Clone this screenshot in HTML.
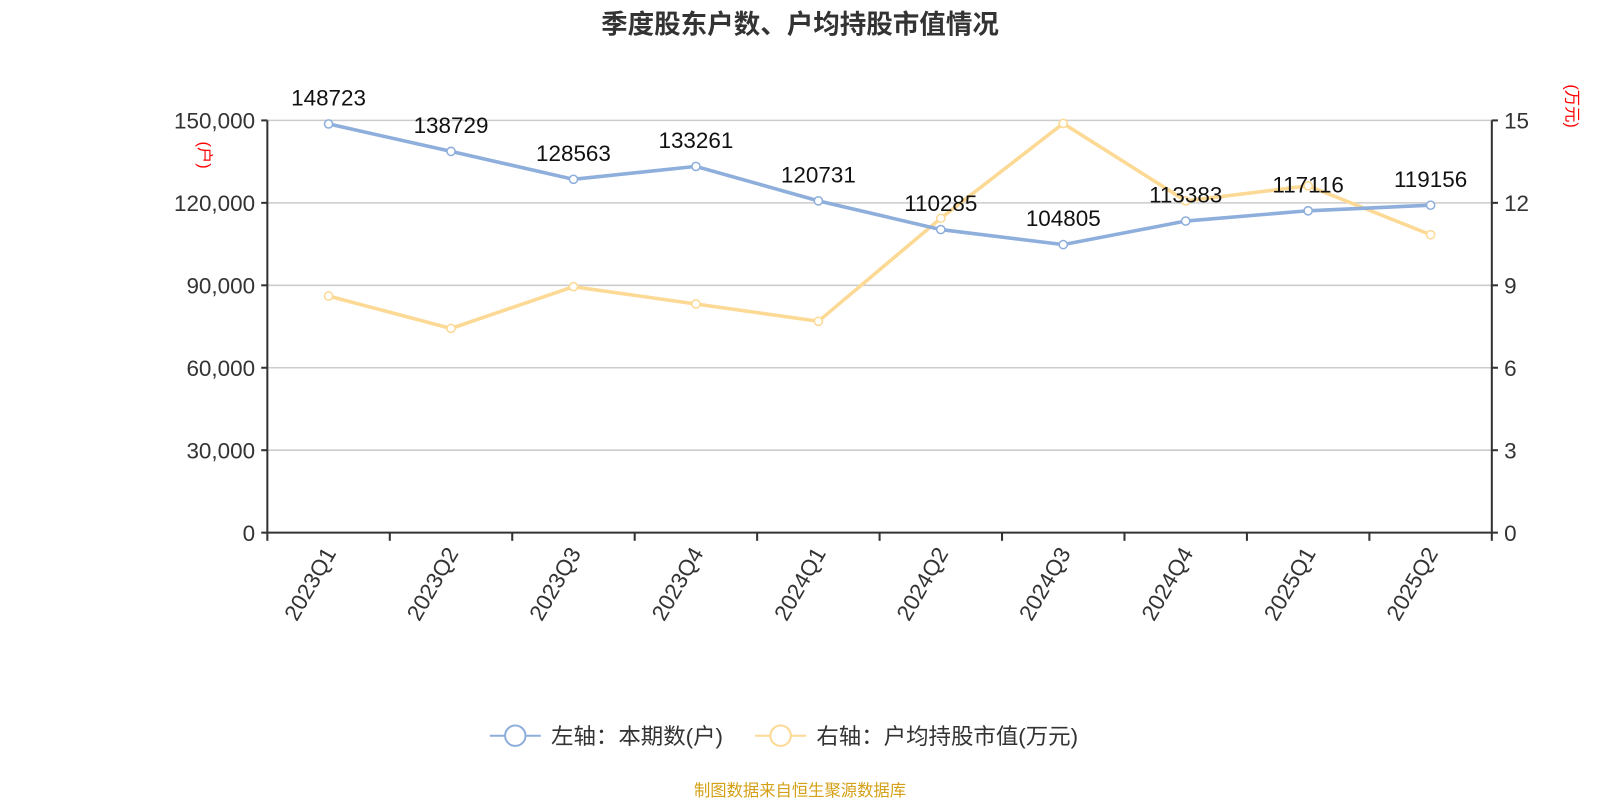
<!DOCTYPE html>
<html><head><meta charset="utf-8"><style>
body{margin:0;background:#fff;width:1600px;height:800px;overflow:hidden}
svg{font-family:"Liberation Sans","Noto Sans CJK SC",sans-serif}
</style></head><body>
<svg id="c" width="1600" height="800" xmlns="http://www.w3.org/2000/svg">
<g transform="scale(1.0204)">
<text x="784" y="33" text-anchor="middle" font-size="26" font-weight="bold" fill="#333">季度股东户数、户均持股市值情况</text>
<g id="grid"></g><g id="axes"></g><g id="series"></g>
<text transform="translate(195,152) rotate(90)" text-anchor="middle" font-size="16" fill="red">(户)</text>
<text transform="translate(1535,104) rotate(90)" text-anchor="middle" font-size="16" fill="red">(万元)</text>
<g>
<g><line x1="480" y1="721" x2="530" y2="721" stroke="#8eaedc" stroke-width="2"/><circle cx="505" cy="721" r="10" fill="#fff" stroke="#8eaedc" stroke-width="2"/><text x="540" y="729" font-size="22" fill="#333">左轴：本期数(户)</text></g>
<g><line x1="740" y1="721" x2="790" y2="721" stroke="#fcd994" stroke-width="2"/><circle cx="765" cy="721" r="10" fill="#fff" stroke="#fcd994" stroke-width="2"/><text x="800" y="729" font-size="22" fill="#333">右轴：户均持股市值(万元)</text></g>
</g>
<text x="784" y="780" text-anchor="middle" font-size="16" fill="#d4a017">制图数据来自恒生聚源数据库</text>
</g>
</svg>
<script>
const categories=["2023Q1","2023Q2","2023Q3","2023Q4","2024Q1","2024Q2","2024Q3","2024Q4","2025Q1","2025Q2"];
const holders=[148723,138729,128563,133261,120731,110285,104805,113383,117116,119156];
const avgValue=[8.61,7.43,8.95,8.32,7.69,11.44,14.89,12.07,12.62,10.84];
const leftTicks=[0,30000,60000,90000,120000,150000];
const rightTicks=[0,3,6,9,12,15];
const NS="http://www.w3.org/2000/svg";
const X0=262,X1=1462,Y0=522,Y1=118;
const bw=(X1-X0)/categories.length;
const xs=i=>X0+bw*(i+0.5);
const yl=v=>Y0-(v/150000)*(Y0-Y1);
const yr=v=>Y0-(v/15)*(Y0-Y1);
function mk(t,a,p,txt){const e=document.createElementNS(NS,t);for(const k in a)e.setAttribute(k,a[k]);if(txt!==undefined)e.textContent=txt;p.appendChild(e);return e;}
const g=document.getElementById('grid'),ax=document.getElementById('axes'),s=document.getElementById('series');
leftTicks.forEach((v,i)=>{
 if(v>0){const l=mk('line',{x1:X0,x2:X1,y1:yl(v),y2:yl(v),stroke:'#ccc','stroke-width':1.5},g);
 
 }
 mk('line',{x1:X0-6,x2:X0,y1:yl(v),y2:yl(v),stroke:'#333','stroke-width':2},ax);
 const t=mk('text',{x:X0-12,y:yl(v)+8,'text-anchor':'end','font-size':22,fill:'#333'},ax,v.toLocaleString('en-US'));
 
 
});
rightTicks.forEach(v=>{
 mk('line',{x1:X1,x2:X1+6,y1:yr(v),y2:yr(v),stroke:'#333','stroke-width':2},ax);
 const t=mk('text',{x:X1+12,y:yr(v)+8,'font-size':22,fill:'#333'},ax,String(v));
 
 
});
mk('line',{x1:X0,x2:X0,y1:Y1,y2:Y0,stroke:'#333','stroke-width':2},ax);
mk('line',{x1:X1,x2:X1,y1:Y1,y2:Y0,stroke:'#333','stroke-width':2},ax);
mk('line',{x1:X0,x2:X1,y1:Y0,y2:Y0,stroke:'#333','stroke-width':2},ax);
for(let i=0;i<=categories.length;i++)mk('line',{x1:X0+bw*i,x2:X0+bw*i,y1:Y0,y2:Y0+8,stroke:'#333','stroke-width':2},ax);
categories.forEach((c,i)=>{
 const t=mk('text',{transform:`translate(${xs(i)+8},${Y0+20}) rotate(-60)`,'text-anchor':'end','font-size':22,fill:'#333'},ax,c);
 
 
});
function series(vals,yf,col,name,labels){
 const p=mk('polyline',{points:vals.map((v,i)=>xs(i)+','+yf(v)).join(' '),fill:'none',stroke:col,'stroke-width':3.5},s);
 
 
 vals.forEach((v,i)=>{
  const c=mk('circle',{cx:xs(i),cy:yf(v),r:4,fill:'#fff',stroke:col,'stroke-width':1.5},s);
  
  
  if(labels){const t=mk('text',{x:xs(i),y:yf(v)-18,'text-anchor':'middle','font-size':22,fill:'#111'},s,String(v));
  
  }
 });
}
series(avgValue,yr,'#fcd994','avg-value',false);
series(holders,yl,'#8eaedc','holders',true);
</script>
</body></html>
